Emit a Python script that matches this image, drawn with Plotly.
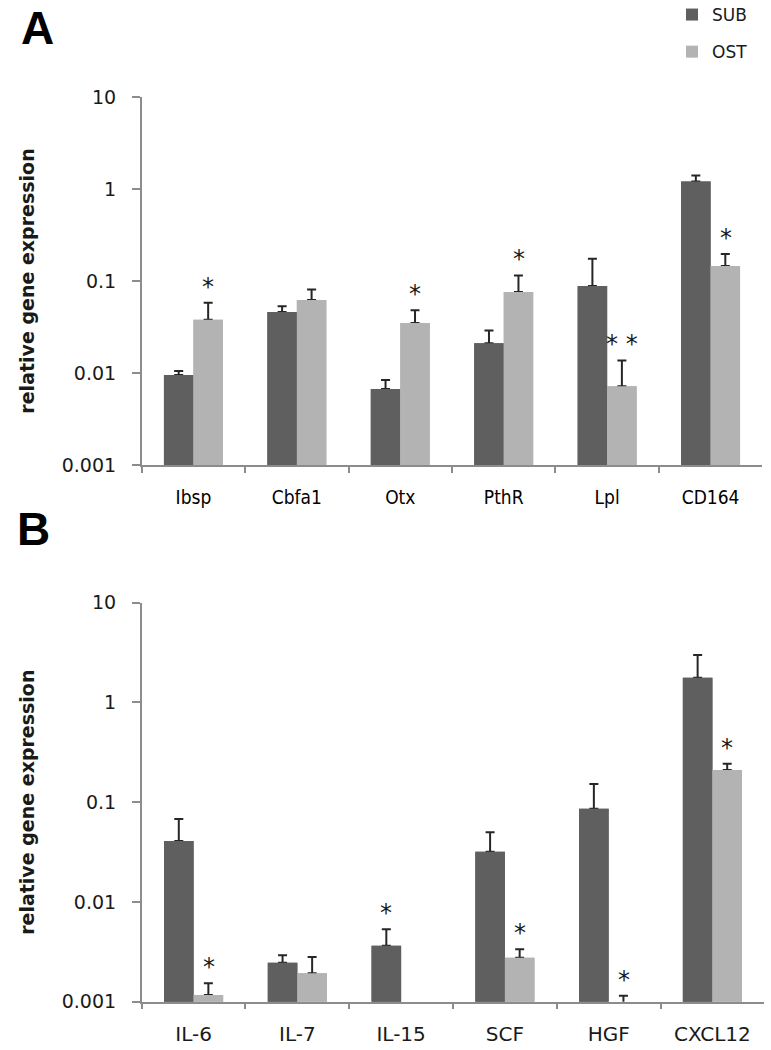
import math
import plotly.graph_objects as go

# ---------------- data ----------------
genes_a = ["Ibsp", "Cbfa1", "Otx", "PthR", "Lpl", "CD164"]
sub_a = [0.0095, 0.046, 0.0067, 0.021, 0.088, 1.21]
sub_a_err = [0.001, 0.007, 0.0017, 0.008, 0.087, 0.19]
ost_a = [0.038, 0.062, 0.035, 0.076, 0.0072, 0.146]
ost_a_err = [0.020, 0.019, 0.013, 0.039, 0.0065, 0.05]
sig_sub_a = ["", "", "", "", "", ""]
sig_ost_a = ["*", "", "*", "*", "* *", "*"]

genes_b = ["IL-6", "IL-7", "IL-15", "SCF", "HGF", "CXCL12"]
sub_b = [0.0408, 0.00246, 0.00364, 0.0319, 0.086, 1.77]
sub_b_err = [0.027, 0.00046, 0.0017, 0.018, 0.066, 1.22]
ost_b = [0.00117, 0.00193, None, 0.00276, 0.0009, 0.21]
ost_b_err = [0.00036, 0.00088, None, 0.0006, 0.00025, 0.033]
sig_sub_b = ["", "", "*", "", "", ""]
sig_ost_b = ["*", "", "", "*", "*", "*"]

tick_vals = [0.001, 0.01, 0.1, 1, 10]
tick_text = ["0.001", "0.01", "0.1", "1", "10"]

# ---------------- style ----------------
W, H = 771, 1050
C_SUB = "#5f5f5f"
C_OST = "#b3b3b3"
C_ERR = "#262626"
AX_COL = "#8c8c8c"
TXT = "#1a1a1a"
VERD = "DejaVu Sans, Verdana, sans-serif"
NARROW = "Liberation Sans Narrow, DejaVu Sans Condensed, Arial Narrow, sans-serif"
HALF_BAR = 15  # px offset of each bar centre from category centre


def px_x(v):
    return v / W


def px_y(v):
    return 1 - v / H


fig = go.Figure()


def add_panel(genes, sub, sub_err, ost, ost_err, xa, ya, show_legend):
    err_kw = dict(type="data", symmetric=False, color=C_ERR, thickness=2, width=4.5)
    fig.add_trace(go.Bar(
        x=genes, y=sub, name="SUB", marker_color=C_SUB, offsetgroup="sub",
        error_y=dict(array=sub_err, arrayminus=[0] * len(sub), **err_kw),
        xaxis=xa, yaxis=ya, showlegend=show_legend, legendgroup="sub",
        marker_line_width=0))
    fig.add_trace(go.Bar(
        x=genes, y=ost, name="OST", marker_color=C_OST, offsetgroup="ost",
        error_y=dict(array=ost_err, arrayminus=[0] * len(ost), **err_kw),
        xaxis=xa, yaxis=ya, showlegend=show_legend, legendgroup="ost",
        marker_line_width=0))
    # same bars again on top, hiding the lower end of the error bars
    fig.add_trace(go.Bar(x=genes, y=sub, marker_color=C_SUB, offsetgroup="sub",
                         xaxis=xa, yaxis=ya, showlegend=False, hoverinfo="skip",
                         marker_line_width=0))
    fig.add_trace(go.Bar(x=genes, y=ost, marker_color=C_OST, offsetgroup="ost",
                         xaxis=xa, yaxis=ya, showlegend=False, hoverinfo="skip",
                         marker_line_width=0))


add_panel(genes_a, sub_a, sub_a_err, ost_a, ost_a_err, "x", "y", True)
add_panel(genes_b, sub_b, sub_b_err, ost_b, ost_b_err, "x2", "y2", False)

annotations = []


def add_stars(genes, vals, errs, sigs, xref, yref, shift):
    for g, v, e, s in zip(genes, vals, errs, sigs):
        if not s or v is None:
            continue
        annotations.append(dict(
            x=g, y=math.log10(v + e), xref=xref, yref=yref, text=s,
            showarrow=False, xshift=shift, yshift=16, xanchor="center", yanchor="middle",
            font=dict(family=VERD, size=24, color=TXT)))


add_stars(genes_a, sub_a, sub_a_err, sig_sub_a, "x", "y", -HALF_BAR)
add_stars(genes_a, ost_a, ost_a_err, sig_ost_a, "x", "y", HALF_BAR)
add_stars(genes_b, sub_b, sub_b_err, sig_sub_b, "x2", "y2", -HALF_BAR)
add_stars(genes_b, ost_b, ost_b_err, sig_ost_b, "x2", "y2", HALF_BAR)

# panel letters
LETTER_FONT = dict(family="Liberation Sans, Arial, sans-serif", size=46, color="#000")
annotations.append(dict(x=px_x(37), y=1, xref="paper", yref="paper", text="<b>A</b>",
                        showarrow=False, xanchor="center", yanchor="top", font=LETTER_FONT))
annotations.append(dict(x=px_x(33), y=px_y(529), xref="paper", yref="paper", text="<b>B</b>",
                        showarrow=False, xanchor="center", yanchor="middle", font=LETTER_FONT))

yaxis_common = dict(
    type="log", range=[-3, 1], tickvals=tick_vals, ticktext=tick_text,
    ticks="outside", ticklen=8, tickwidth=1.5, tickcolor=AX_COL,
    showline=True, linecolor=AX_COL, linewidth=1.5, showgrid=False, zeroline=False,
    tickfont=dict(family=VERD, size=19, color=TXT), ticklabelstandoff=12,
    automargin=False,
    title=dict(text="<b>relative gene expression</b>", standoff=22,
               font=dict(family=VERD, size=19, color=TXT)),
)

xaxis_common = dict(
    type="category", tickson="boundaries", ticks="outside", ticklen=6, tickwidth=1.5,
    tickcolor=AX_COL, showline=True, linecolor=AX_COL, linewidth=1.5,
    showgrid=False, automargin=False, ticklabelstandoff=14,
)

fig.update_layout(
    width=W, height=H,
    margin=dict(l=0, r=0, t=0, b=0, autoexpand=False),
    paper_bgcolor="white", plot_bgcolor="white",
    barmode="group", bargap=0.43, bargroupgap=0,
    xaxis=dict(domain=[px_x(141.7), px_x(762.3)], anchor="y",
               tickfont=dict(family=NARROW, size=19, color="#000"), **xaxis_common),
    yaxis=dict(domain=[px_y(465), px_y(97)], anchor="x", **yaxis_common),
    xaxis2=dict(domain=[px_x(141.7), px_x(764.3)], anchor="y2",
                tickfont=dict(family=VERD, size=20, color=TXT), **xaxis_common),
    yaxis2=dict(domain=[px_y(1001.7), px_y(602.7)], anchor="x2", **yaxis_common),
    legend=dict(x=px_x(672), y=px_y(-3), xanchor="left", yanchor="top",
                font=dict(family=VERD, size=17, color=TXT),
                tracegroupgap=12, traceorder="grouped", bgcolor="rgba(0,0,0,0)"),
    annotations=annotations,
    showlegend=True,
)

fig.write_html("out.html", config={"displayModeBar": False},
               post_script="document.body.style.margin='0';")
